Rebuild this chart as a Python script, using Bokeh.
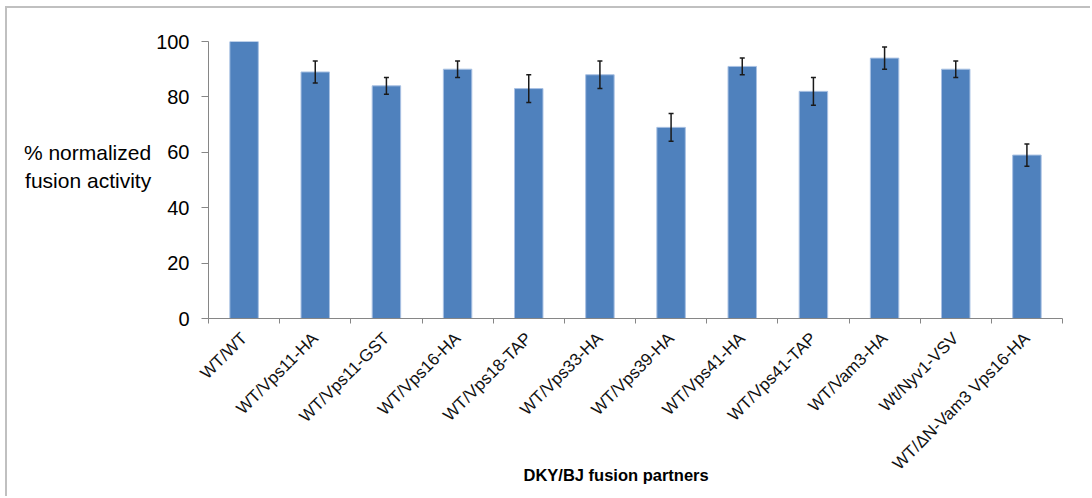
import math
from bokeh.plotting import figure
from bokeh.models import Range1d, FixedTicker, Whisker, ColumnDataSource, Title, TeeHead
from bokeh.embed import file_html
from bokeh.resources import INLINE

categories = ["WT/WT", "WT/Vps11-HA", "WT/Vps11-GST", "WT/Vps16-HA", "WT/Vps18-TAP",
              "WT/Vps33-HA", "WT/Vps39-HA", "WT/Vps41-HA", "WT/Vps41-TAP", "WT/Vam3-HA",
              "Wt/Nyv1-VSV", "WT/\u0394N-Vam3 Vps16-HA"]
values = [100, 89, 84, 90, 83, 88, 69, 91, 82, 94, 90, 59]
errors = [0, 4, 3, 3, 5, 5, 5, 3, 5, 4, 3, 4]
y_ticks = [0, 20, 40, 60, 80, 100]
y_title = "% normalized\nfusion activity\n "
x_title = "DKY/BJ fusion partners"

FONT = "Liberation Sans"
n = len(categories)
xs = [i + 0.5 for i in range(n)]

p = figure(width=1085, height=490, output_backend="svg", toolbar_location=None,
           x_range=Range1d(0, n), y_range=Range1d(0, 100),
           min_border_left=201, min_border_right=30, min_border_top=33, min_border_bottom=180,
           styles={"margin-left": "5px", "margin-top": "6px",
                   "border-left": "2px solid #c0c0c0", "border-top": "2px solid #c0c0c0"})
p.outline_line_color = None
p.xgrid.visible = False
p.ygrid.visible = False

src = ColumnDataSource(dict(x=xs, top=values, cat=categories))
p.vbar(x="x", top="top", width=0.4, source=src, fill_color="#4F81BD",
       line_color="#a9c1e3", line_width=1)

ex = [x for x, e in zip(xs, errors) if e > 0]
ev = [v for v, e in zip(values, errors) if e > 0]
ee = [e for e in errors if e > 0]
esrc = ColumnDataSource(dict(x=ex, upper=[v + e for v, e in zip(ev, ee)],
                             lower=[v - e for v, e in zip(ev, ee)]))
w = Whisker(base="x", upper="upper", lower="lower", source=esrc, level="annotation",
            line_color="#1a1a1a", line_width=1.5,
            upper_head=TeeHead(size=5, line_color="#1a1a1a", line_width=1.5),
            lower_head=TeeHead(size=5, line_color="#1a1a1a", line_width=1.5))
p.add_layout(w)

# y axis
ya = p.yaxis[0]
ya.ticker = FixedTicker(ticks=y_ticks)
ya.axis_line_color = "#868686"
ya.major_tick_line_color = "#868686"
ya.major_tick_out = 7
ya.major_tick_in = 0
ya.minor_tick_out = 0
ya.minor_tick_in = 0
ya.major_label_standoff = 12
ya.major_label_text_font = FONT
ya.major_label_text_font_size = "20px"
ya.major_label_text_color = "#000000"
ya.axis_label = y_title
ya.axis_label_orientation = "horizontal"
ya.axis_label_standoff = 2
ya.axis_label_text_font = FONT
ya.axis_label_text_font_size = "21px"
ya.axis_label_text_font_style = "normal"
ya.axis_label_text_color = "#000000"
ya.axis_label_text_align = "left"

# x axis
xa = p.xaxis[0]
xa.ticker = FixedTicker(ticks=xs, minor_ticks=list(range(n + 1)))
xa.major_label_overrides = {x: c for x, c in zip(xs, categories)}
xa.axis_line_color = "#868686"
xa.major_tick_out = 0
xa.major_tick_in = 0
xa.minor_tick_line_color = "#868686"
xa.minor_tick_out = 5
xa.minor_tick_in = 0
xa.major_label_orientation = math.pi / 4
xa.major_label_standoff = 12
xa.major_label_text_font = FONT
xa.major_label_text_font_size = "17px"
xa.major_label_text_color = "#111111"

p.add_layout(Title(text=x_title, align="left", offset=315, standoff=-36, vertical_align="top",
                   text_font=FONT, text_font_size="16.5px", text_font_style="bold",
                   text_color="#000000"), "below")

open("out.html", "w").write(file_html(p, INLINE))
